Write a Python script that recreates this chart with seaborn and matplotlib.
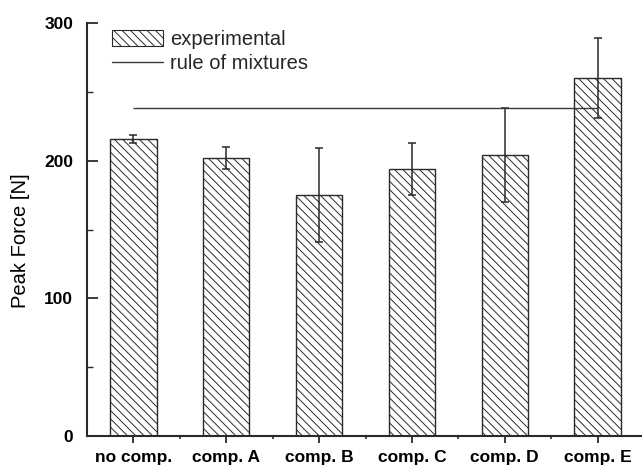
import numpy as np
import pandas as pd
import matplotlib
matplotlib.use("Agg")
import matplotlib.pyplot as plt
from matplotlib.ticker import MultipleLocator, FixedLocator
from matplotlib.patches import Patch
from matplotlib.lines import Line2D
import seaborn as sns

# Peak force per sample (mean and standard deviation, N)
categories = ["no comp.", "comp. A", "comp. B", "comp. C", "comp. D", "comp. E"]
peak_force = [216, 202, 175, 194, 204, 260]
peak_force_sd = [3, 8, 34, 19, 34, 29]
rule_of_mixtures = 238

sns.set_theme(style="ticks")
plt.rcParams["font.family"] = ["Liberation Sans", "DejaVu Sans"]
plt.rcParams["hatch.linewidth"] = 0.7

ink = "#2a2a2a"
hatch = "\\\\\\\\"

fig = plt.figure(figsize=(6.42, 4.66), dpi=100)
ax = fig.add_axes([87 / 642, 30 / 466, 557 / 642, 413 / 466])

df = pd.DataFrame({"sample": categories, "force": peak_force})
sns.barplot(data=df, x="sample", y="force", width=0.5, color="white",
            saturation=1, edgecolor=ink, linewidth=1.0, hatch=hatch,
            errorbar=None, ax=ax)

ax.errorbar(np.arange(len(categories)), peak_force, yerr=peak_force_sd,
            fmt="none", ecolor=ink, elinewidth=1.1, capsize=3, capthick=1.1,
            zorder=5)

ax.hlines(rule_of_mixtures, 0, len(categories) - 1, color="#3a3a3a",
          linewidth=1.0, zorder=6)

ax.set_xlim(-0.5, 5.5)
ax.set_ylim(0, 300)
ax.yaxis.set_major_locator(MultipleLocator(100))
ax.yaxis.set_minor_locator(MultipleLocator(50))
ax.xaxis.set_minor_locator(FixedLocator(np.arange(0.5, 5.0, 1.0)))

sns.despine(ax=ax)
for side in ("left", "bottom"):
    ax.spines[side].set_linewidth(1.5)
    ax.spines[side].set_color(ink)

ax.tick_params(axis="x", which="major", direction="out", length=5, width=1.3,
               pad=5, labelsize=12.5, colors=ink)
ax.tick_params(axis="x", which="minor", direction="out", length=2.5, width=1.2,
               colors=ink)
ax.tick_params(axis="y", which="major", direction="in", length=8, width=1.3,
               pad=10, labelsize=12.5, colors=ink)
ax.tick_params(axis="y", which="minor", direction="in", length=4, width=1.0,
               colors=ink)
for lab in ax.get_xticklabels() + ax.get_yticklabels():
    lab.set_fontweight("bold")
    lab.set_color("black")

ax.set_xlabel("")
ax.set_ylabel("Peak Force [N]", fontsize=14.5, color="black")
ax.yaxis.set_label_coords(-0.102, 0.473)

handles = [Patch(facecolor="white", edgecolor=ink, hatch=hatch, linewidth=0.8),
           Line2D([], [], color="#3a3a3a", linewidth=1.0)]
ax.legend(handles, ["experimental", "rule of mixtures"], loc="upper left",
          bbox_to_anchor=(112 / 642, 1 - 30 / 466), bbox_transform=fig.transFigure,
          frameon=False, fontsize=14.5, handlelength=2.55, handleheight=0.8,
          handletextpad=0.35, labelspacing=0.25, borderpad=0, borderaxespad=0)

fig.savefig("out.png", dpi=100)
